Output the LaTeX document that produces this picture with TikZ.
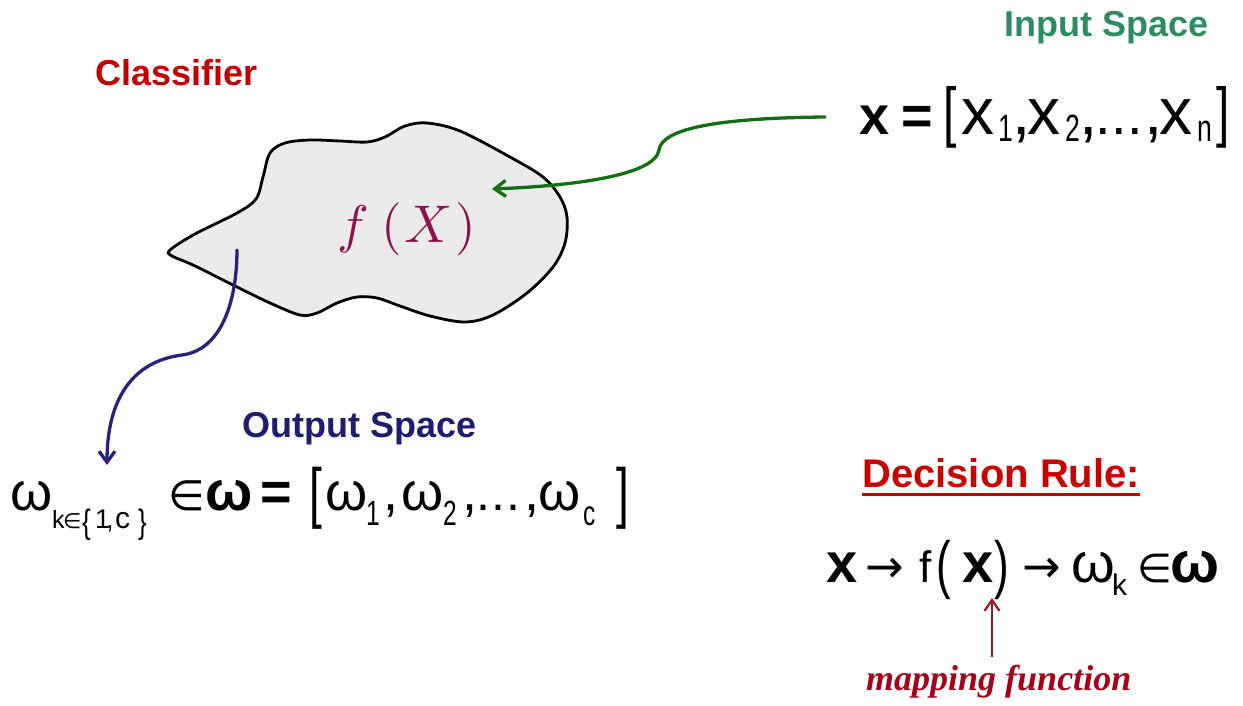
\documentclass[tikz,border=0pt]{standalone}
\usepackage{graphicx}
\usepackage{fontspec}
\setmainfont{Liberation Sans}
\newfontfamily\dvs{DejaVu Sans}
\newfontfamily\lserif{Liberation Serif}
\usetikzlibrary{arrows.meta}
\newcommand\fs[1]{\fontsize{#1}{#1}\selectfont}
\newcommand\tk[2]{\makebox[#1pt][l]{#2}}
\newcommand\lw[3]{\raisebox{-#1pt}{\fs{#2}#3}}
% condensed lowered subscript
\newcommand\cs[3]{\raisebox{-#1pt}{\fs{#2}\scalebox{0.7}[1]{#3}}}
% thin tall delimiter: lower, size, vertical scale, glyph
\newcommand\tdl[4]{\raisebox{-#1pt}{\fs{#2}\scalebox{1}[#3]{#4}}}
\definecolor{clsred}{RGB}{192,0,0}
\definecolor{inpgreen}{RGB}{46,139,100}
\definecolor{outnavy}{RGB}{32,28,110}
\definecolor{decred}{RGB}{200,0,0}
\definecolor{mapred}{RGB}{165,0,25}
\definecolor{fxcol}{RGB}{140,20,75}
\definecolor{garrow}{RGB}{20,110,20}
\definecolor{narrow}{RGB}{40,35,120}
\definecolor{rarrow}{RGB}{160,20,30}
\definecolor{blobfill}{RGB}{235,235,235}
\tikzset{
  title/.style={font=\fs{36}\bfseries, inner sep=0pt, anchor=base west},
  formula/.style={inner sep=0pt, anchor=base west},
  conn/.style={line width=3.3pt, line cap=round},
  tipb/.style={-{Straight Barb[length=11pt,width=16pt]}},
}
\begin{document}
\begin{tikzpicture}[x=1pt,y=-1pt]
\fill[white] (0,0) rectangle (1243,706);
\useasboundingbox (0,0) rectangle (1243,706);

% blob
\draw[line width=2.8pt, fill=blobfill, line join=round]
  plot[smooth cycle, tension=0.55] coordinates {
  (170,250) (195,234) (237,213) (256,199) (263,177) (270,153) (285,143)
  (310,140) (340,141) (367,142) (385,137) (405,126) (427,123) (460,131)
  (510,157) (543,177) (560,197) (567,217) (565,243) (553,267) (527,293)
  (493,315) (465,322) (430,316) (400,306) (377,298) (357,297) (337,303)
  (317,313) (300,315) (270,303) (233,285) (193,265) (172,256)};

\node[inner sep=0pt, anchor=base, text=fxcol] (fx) at (407,242)
  {\scalebox{5.3}{$f\mkern4mu(\mkern1mu X\mkern1mu)$}};

% titles
\node[title, text=clsred] (cls) at (95,86) {Classifier};
\node[title, text=inpgreen] (inp) at (1004,37) {Input Space};
\node[title, text=outnavy] (outp) at (242,437) {Output Space};
\node[title, font=\fs{40}\bfseries, text=decred] (dec) at (862,487) {Decision Rule:};
\draw[decred, line width=3pt] ([yshift=-7pt]dec.base west) -- ([yshift=-7pt]dec.base east);

% input formula
\node[formula] (xin) at (859,135) {%
\tk{42}{\fs{54}\bfseries x}%
\tk{42}{\fs{54}\bfseries =}%
\tk{18}{\tdl{0}{48}{1.38}{[}}%
\tk{37}{\fs{66}x}%
\tk{14}{\cs{7}{38}{1}}%
\tk{15}{\fs{66},}%
\tk{38}{\fs{66}x}%
\tk{14}{\cs{7}{38}{2}}%
\tk{16}{\fs{66},}%
\tk{16}{\fs{56}.}%
\tk{16}{\fs{56}.}%
\tk{17}{\fs{56}.}%
\tk{15}{\fs{66},}%
\tk{38}{\fs{66}x}%
\tk{19}{\cs{7}{38}{n}}%
\tk{20}{\tdl{0}{48}{1.38}{]}}};

% output formula
\node[formula] (wout) at (10,510) {%
\tk{42}{\fs{54}ω}%
\tk{11}{\lw{18}{25}{k}}%
\tk{19}{\raisebox{-18pt}{\fs{21}\dvs ∈}}%
\tk{13}{\tdl{23}{26}{1.3}{\{}}%
\tk{11}{\lw{18}{27}{1}}%
\tk{9}{\lw{18}{27}{,}}%
\tk{23}{\lw{18}{30}{c}}%
\tk{30}{\tdl{23}{26}{1.3}{\}}}%
\tk{37}{\fs{42}\dvs ∈}%
\tk{55}{\fs{56}\bfseries ω}%
\tk{49}{\fs{54}\bfseries =}%
\tk{16}{\tdl{5}{46}{1.45}{[}}%
\tk{41}{\fs{54}ω}%
\tk{17}{\cs{15}{35}{1}}%
\tk{18}{\fs{54},}%
\tk{42}{\fs{54}ω}%
\tk{19}{\cs{15}{35}{2}}%
\tk{14}{\fs{54},}%
\tk{15}{\fs{50}.}%
\tk{15}{\fs{50}.}%
\tk{18}{\fs{50}.}%
\tk{14}{\fs{54},}%
\tk{45}{\fs{54}ω}%
\tk{33}{\cs{15}{35}{c}}%
\tk{16}{\tdl{5}{46}{1.45}{]}}};

% decision formula
\node[formula] (rule) at (826,582) {%
\tk{39}{\fs{56}\bfseries x}%
\tk{54}{\fs{46}\dvs →}%
\tk{17}{\fs{44}f}%
\tk{26}{\tdl{4}{44}{1.45}{(}}%
\tk{32}{\fs{56}\bfseries x}%
\tk{28}{\tdl{4}{44}{1.45}{)}}%
\tk{49}{\fs{46}\dvs →}%
\tk{41}{\fs{56}ω}%
\tk{25}{\lw{13}{30}{k}}%
\tk{33}{\fs{40}\dvs ∈}%
\tk{60}{\fs{58}\bfseries ω}};

\node[formula, text=mapred, font=\fs{36}\lserif\bfseries\itshape] (map) at (866,690) {mapping function};

% connectors
\coordinate (gs) at (825,117);
\coordinate (ge) at (492,189);
\draw[conn, garrow, tipb] (gs) .. controls (720,118) and (662,128) .. (659,150)
  .. controls (655,176) and (570,186) .. (ge);

\coordinate (ns) at (237,250);
\coordinate (ne) at (107,465);
\draw[conn, narrow, tipb] (ns) .. controls (237,300) and (222,350) .. (182,355)
  .. controls (128,362) and (107,405) .. (ne);

\coordinate (rs) at (992,657);
\coordinate (re) at (992,598);
\draw[line width=2.2pt, rarrow, -{Straight Barb[length=11pt,width=15pt]}] (rs) -- (re);
\end{tikzpicture}
\end{document}
